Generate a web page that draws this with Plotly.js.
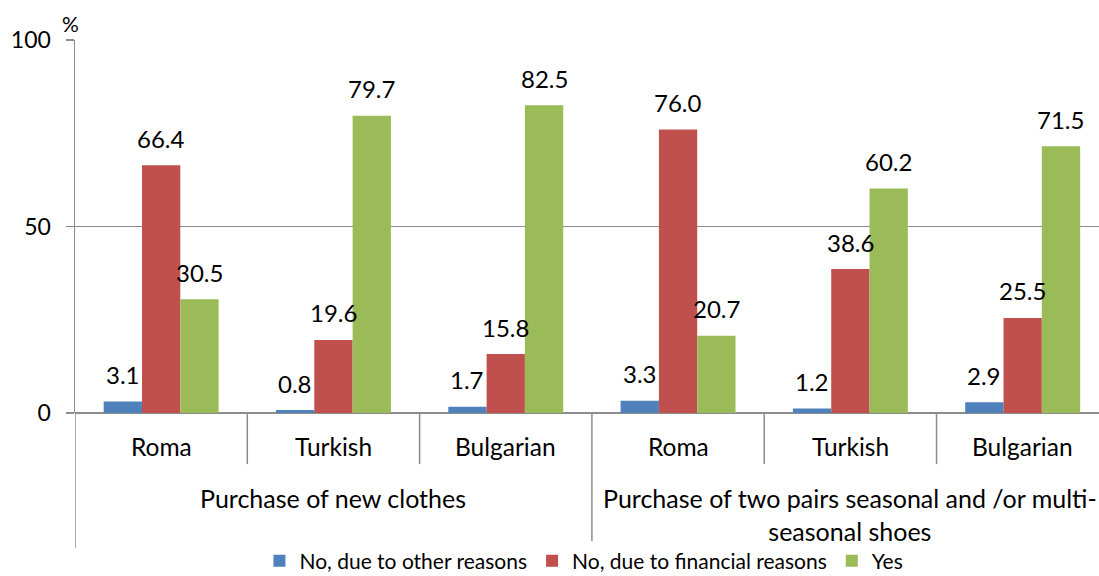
<!DOCTYPE html>
<html>
<head>
<meta charset="utf-8">
<script src="https://cdn.plot.ly/plotly-3.0.1.min.js"></script>
<style>
    html, body { margin: 0; padding: 0; background: #fff; }
    #chart { width: 1099px; height: 576px; }
</style>
</head>
<body>
<div id="chart"></div>
<script>
// sub categories along the x axis, and the two groups they sit in
const categories = ['Roma', 'Turkish', 'Bulgarian', 'Roma', 'Turkish', 'Bulgarian'];
const groupLabels = ['Purchase of new clothes', 'Purchase of two pairs seasonal and /or multi-<br>seasonal shoes'];
const groupSize = 3;

// series values, %
const otherReasons = [3.1, 0.8, 1.7, 3.3, 1.2, 2.9];
const financialReasons = [66.4, 19.6, 15.8, 76.0, 38.6, 25.5];
const yesValues = [30.5, 79.7, 82.5, 20.7, 60.2, 71.5];

const seriesNames = ['No, due to other reasons', 'No, due to financial reasons', 'Yes'];
const seriesColors = ['#4F81BD', '#C0504D', '#9BBB59'];
const seriesValues = [otherReasons, financialReasons, yesValues];

const FONT = 'Lato, "Open Sans", sans-serif';
const AXIS_GREY = '#8c8c8c';
const BARGAP = 0.333;

let xIdx = categories.map((c, i) => i);

let traces = seriesValues.map((vals, s) => ({
    type: 'bar',
    x: xIdx,
    y: vals,
    name: seriesNames[s],
    marker: {color: seriesColors[s]},
    hoverinfo: 'skip'
}));

// value labels: above each bar, in the middle of its slot
let barWidth = (1 - BARGAP) / seriesValues.length;
let annotations = [];
seriesValues.forEach((vals, s) => {
    vals.forEach((v, i) => {
        annotations.push({
            x: i + (s - 1) * barWidth, y: v, xref: 'x', yref: 'y',
            text: v.toFixed(1), showarrow: false,
            yanchor: 'middle', yshift: 27,
            font: {family: FONT, size: 24, color: '#000'}
        });
    });
});

// category names under the axis
categories.forEach((c, i) => {
    annotations.push({
        x: i, y: -0.09, xref: 'x', yref: 'paper',
        text: c, showarrow: false, yanchor: 'middle',
        font: {family: FONT, size: 24.5, color: '#000'}
    });
});

// group names
groupLabels.forEach((g, k) => {
    annotations.push({
        x: k * groupSize + (groupSize - 1) / 2, y: -0.182, xref: 'x', yref: 'paper',
        text: g, showarrow: false, yanchor: 'top',
        font: {family: FONT, size: 25, color: '#000'}
    });
});

// % unit over the y axis
annotations.push({
    x: 0, y: 1.005, xref: 'paper', yref: 'paper', xanchor: 'center', yanchor: 'bottom',
    xshift: -5, text: '%', showarrow: false,
    font: {family: FONT, size: 21, color: '#000'}
});

// dividers between categories: short ones inside a group, long ones between groups
let shapes = [];
for (let i = 0; i < categories.length; i++) {
    let isGroupEdge = i % groupSize === 0;
    shapes.push({
        type: 'line', xref: 'x', yref: 'paper',
        x0: i - 0.5, x1: i - 0.5,
        y0: 0, y1: isGroupEdge ? -0.362 : -0.137,
        line: {color: AXIS_GREY, width: 1.5}
    });
}

let layout = {
    width: 1099,
    height: 576,
    margin: {l: 75, r: 0, t: 40, b: 163, autoexpand: false},
    paper_bgcolor: '#fff',
    plot_bgcolor: '#fff',
    barmode: 'group',
    bargap: BARGAP,
    bargroupgap: 0,
    showlegend: true,
    legend: {
        orientation: 'h',
        x: 0.497, xanchor: 'center', xref: 'paper',
        y: 0.026, yanchor: 'middle', yref: 'container',
        font: {family: FONT, size: 21, color: '#000'},
        itemwidth: 30,
        traceorder: 'normal'
    },
    xaxis: {
        range: [-0.5, 5.443],
        showticklabels: false,
        showgrid: false,
        zeroline: false,
        showline: false,
        ticks: ''
    },
    yaxis: {
        range: [0, 100],
        dtick: 50,
        showgrid: true,
        gridcolor: AXIS_GREY,
        gridwidth: 1.5,
        zeroline: true,
        zerolinecolor: AXIS_GREY,
        zerolinewidth: 1.5,
        showline: true,
        linecolor: AXIS_GREY,
        linewidth: 1.5,
        ticks: 'outside',
        ticklen: 8,
        tickcolor: AXIS_GREY,
        tickwidth: 1.5,
        ticklabelstandoff: 10,
        tickfont: {family: FONT, size: 23, color: '#000'}
    },
    annotations: annotations,
    shapes: shapes
};

let config = {
    staticPlot: true,
    displayModeBar: false
};

Plotly.newPlot('chart', traces, layout, config);
</script>
</body>
</html>
